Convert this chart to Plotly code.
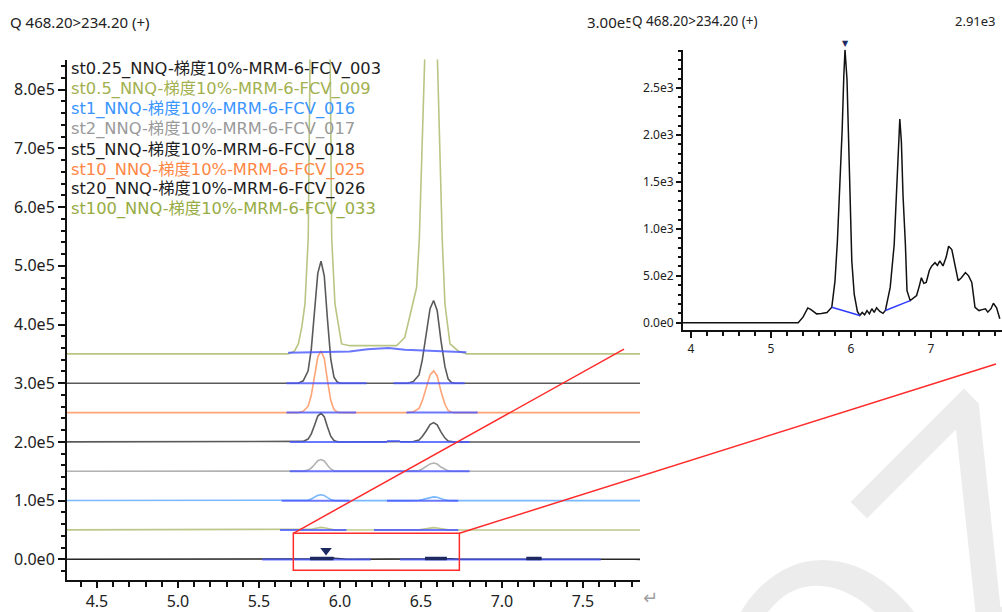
import plotly.graph_objects as go

W, H = 1002, 612

# ---------------------------------------------------------------- data
samples = [
    "st0.25_NNQ-梯度10%-MRM-6-FCV_003",
    "st0.5_NNQ-梯度10%-MRM-6-FCV_009",
    "st1_NNQ-梯度10%-MRM-6-FCV_016",
    "st2_NNQ-梯度10%-MRM-6-FCV_017",
    "st5_NNQ-梯度10%-MRM-6-FCV_018",
    "st10_NNQ-梯度10%-MRM-6-FCV_025",
    "st20_NNQ-梯度10%-MRM-6-FCV_026",
    "st100_NNQ-梯度10%-MRM-6-FCV_033",
]
text_colors = ["#1e1e1e", "#a3b150", "#3b95ff", "#9a9a9a",
               "#1e1e1e", "#ff8746", "#1e1e1e", "#97ac44"]
line_colors = ["#262626", "#bcc78a", "#7ab9ff", "#b2b2b2",
               "#5a5a5a", "#ffa476", "#5a5a5a", "#b9c582"]

# retention times of the two analyte peaks (min)
rt_peak1 = 5.883
rt_peak2 = 6.578
# apex heights above baseline for st0.5, st1, st2, st5, st10, st20 (counts)
height_peak1 = [4500, 10000, 20000, 49000, 105000, 208000]
height_peak2 = [4000, 6500, 14000, 33000, 71000, 141000]

# normalised peak profile (time offset from apex, relative intensity)
prof1_dt = [-0.14, -0.11, -0.08, -0.06, -0.04, -0.02, 0.0, 0.02, 0.04, 0.06, 0.08, 0.10, 0.12]
prof2_dt = [-0.16, -0.125, -0.09, -0.07, -0.045, -0.022, 0.0, 0.022, 0.045, 0.07, 0.09, 0.11, 0.13]
prof_rel = [0.0, 0.02, 0.10, 0.28, 0.58, 0.90, 1.0, 0.88, 0.52, 0.20, 0.05, 0.01, 0.0]

# st0.25 chromatogram (also shown enlarged)
st025_t = [3.90, 5.34, 5.40, 5.46, 5.50, 5.57, 5.63, 5.70, 5.76, 5.80, 5.83, 5.86,
           5.89, 5.91, 5.925, 5.95, 5.97, 5.99, 6.01, 6.04, 6.08, 6.11, 6.14, 6.17,
           6.20, 6.23, 6.26, 6.29, 6.32, 6.36, 6.40, 6.43, 6.49, 6.54, 6.57, 6.60,
           6.61, 6.63, 6.65, 6.68, 6.70, 6.74, 6.78, 6.82, 6.85, 6.88, 6.91, 6.94,
           6.98, 7.01, 7.05, 7.08, 7.11, 7.15, 7.19, 7.22, 7.26, 7.30, 7.34, 7.38,
           7.43, 7.47, 7.51, 7.55, 7.60, 7.64, 7.68, 7.71, 7.75, 7.78, 7.82, 7.86]
st025_i = [0, 0, 60, 158, 140, 95, 100, 110, 166, 447, 869, 1432,
           2065, 2627, 2909, 2592, 1924, 1186, 658, 306, 120, 78, 110, 85,
           130, 95, 150, 110, 160, 120, 100, 131, 377, 834, 1361, 1924,
           2170, 1924, 1361, 834, 342, 236, 260, 290, 380, 480, 420, 430,
           560, 605, 640, 610, 660, 605, 700, 815, 780, 600, 447, 480,
           535, 500, 430, 165, 130, 140, 148, 113, 150, 208, 160, 42]

# st100 chromatogram (detector saturated, runs off scale)
st100_t = [3.90, 5.68, 5.72, 5.743, 5.764, 5.784, 5.804, 5.815, 5.83, 5.877, 5.925,
           5.938, 5.949, 5.969, 6.01, 6.06, 6.35, 6.40, 6.473, 6.49, 6.535, 6.55,
           6.566, 6.58, 6.597, 6.631, 6.648, 6.679, 6.73, 6.782, 7.90]
st100_i = [0, 0, 5000, 17000, 45000, 85000, 197000, 550000, 900000, 1100000, 900000,
           550000, 197000, 85000, 17000, 14000, 14000, 28000, 113000, 197000, 550000, 800000,
           900000, 800000, 550000, 197000, 85000, 17000, 5000, 0, 0]

# integration baselines per sample: segments of (time, intensity) points
integ_segments = [
    [[(5.52, 0), (6.19, 0)], [(6.37, 0), (7.61, 0)]],
    [[(5.63, 0), (6.04, 0)], [(6.21, 0), (6.73, 0)]],
    [[(5.64, 0), (6.06, 0)], [(6.29, 0), (6.73, 0)]],
    [[(5.69, 0), (6.80, 0)]],
    [[(5.69, 0), (6.29, 0)], [(6.29, 1500), (6.37, 1500)], [(6.37, 0), (6.80, 0)]],
    [[(5.67, 0), (6.10, 0)], [(6.41, 0), (6.85, 0)]],
    [[(5.67, 0), (6.165, 0)], [(6.33, 0), (6.77, 0)]],
    [[(5.68, 2000), (6.06, 4000), (6.17, 8000), (6.30, 10000), (6.40, 7000), (6.78, 3000)]],
]
# st0.25 detected peak ranges and apex
st025_peak_ranges = [(5.815, 5.96), (6.525, 6.66), (7.15, 7.245)]
st025_apex_t = 5.914
st025_apex_i = 2909
st025_zoom_integ = [[(5.76, 166), (6.11, 78)], [(6.43, 131), (6.74, 236)]]

stack_step = 50000  # vertical offset between overlaid traces

main_yticks = [0, 100000, 200000, 300000, 400000, 500000, 600000, 700000, 800000]
main_yticklabels = ["0.0e0", "1.0e5", "2.0e5", "3.0e5", "4.0e5", "5.0e5", "6.0e5", "7.0e5", "8.0e5"]
main_xticks = [4.5, 5.0, 5.5, 6.0, 6.5, 7.0, 7.5]
main_xticklabels = ["4.5", "5.0", "5.5", "6.0", "6.5", "7.0", "7.5"]
zoom_yticks = [0, 500, 1000, 1500, 2000, 2500]
zoom_yticklabels = ["0.0e0", "5.0e2", "1.0e3", "1.5e3", "2.0e3", "2.5e3"]
zoom_xticks = [4, 5, 6, 7]
zoom_xticklabels = ["4", "5", "6", "7"]

# ---------------------------------------------------------------- layout helpers
def px_x(px):
    return px / W


def px_y(py):
    return 1 - py / H


MAIN_X = (67, 640)
MAIN_Y = (60, 585)          # top, bottom (pixels)
MAIN_XR = [4.315, 7.852]
MAIN_YR = [-35500, 851400]
ZOOM_X = (683, 1002)
ZOOM_Y = (50, 333)
ZOOM_XR = [3.9, 7.8875]
ZOOM_YR = [-80, 2910]

FONT = "Noto Sans, Noto Sans CJK SC, sans-serif"
LEG_FONT = "DejaVu Sans, Noto Sans CJK SC, sans-serif"
BLUE = "rgba(70,85,255,0.8)"
NAVY = "#1d2a62"

fig = go.Figure()

# ---------------------------------------------------------------- main overlay
for k, name in enumerate(samples):
    base = k * stack_step
    if k == 0:
        t, inten = st025_t, st025_i
    elif k == len(samples) - 1:
        t, inten = st100_t, st100_i
    else:
        h1, h2 = height_peak1[k - 1], height_peak2[k - 1]
        t = [3.9] + [rt_peak1 + d for d in prof1_dt] + [rt_peak2 + d for d in prof2_dt] + [7.9]
        inten = [0] + [h1 * r for r in prof_rel] + [h2 * r for r in prof_rel] + [0]
    fig.add_trace(go.Scatter(x=t, y=[base + v for v in inten], mode="lines",
                             line=dict(color=line_colors[k], width=1.6),
                             hoverinfo="skip", showlegend=False, xaxis="x", yaxis="y"))

for k, segs in enumerate(integ_segments):
    base = k * stack_step
    xs, ys = [], []
    for seg in segs:
        xs += [p[0] for p in seg] + [None]
        ys += [base + p[1] for p in seg] + [None]
    fig.add_trace(go.Scatter(x=xs, y=ys, mode="lines", line=dict(color=BLUE, width=2),
                             hoverinfo="skip", showlegend=False, xaxis="x", yaxis="y"))

bx, by = [], []
for a, b in st025_peak_ranges:
    bx += [a, b, None]
    by += [1500, 1500, None]
fig.add_trace(go.Scatter(x=bx, y=by, mode="lines", line=dict(color=NAVY, width=3.5),
                         hoverinfo="skip", showlegend=False, xaxis="x", yaxis="y"))
fig.add_trace(go.Scatter(x=[st025_apex_t], y=[15000], mode="markers",
                         marker=dict(symbol="triangle-down", size=10, color=NAVY),
                         hoverinfo="skip", showlegend=False, xaxis="x", yaxis="y"))

# ---------------------------------------------------------------- enlarged st0.25
fig.add_trace(go.Scatter(x=st025_t, y=st025_i, mode="lines",
                         line=dict(color="#111111", width=1.5),
                         hoverinfo="skip", showlegend=False, xaxis="x2", yaxis="y2"))
zx, zy = [], []
for seg in st025_zoom_integ:
    zx += [p[0] for p in seg] + [None]
    zy += [p[1] for p in seg] + [None]
fig.add_trace(go.Scatter(x=zx, y=zy, mode="lines", line=dict(color="#2f3cff", width=1.5),
                         hoverinfo="skip", showlegend=False, xaxis="x2", yaxis="y2"))

# ---------------------------------------------------------------- axes
tickfont = dict(family=FONT, size=16, color="#222222")
small_tickfont = dict(family=FONT, size=12, color="#222222")
common = dict(showgrid=False, zeroline=False, showline=True, linecolor="#111111",
              linewidth=2, ticks="outside", tickcolor="#111111", tickwidth=1.5)

fig.update_layout(
    width=W, height=H,
    margin=dict(l=0, r=0, t=0, b=0),
    paper_bgcolor="white", plot_bgcolor="white",
    xaxis=dict(domain=[px_x(MAIN_X[0]), px_x(MAIN_X[1])], range=MAIN_XR, anchor="y",
               tickmode="array", tickvals=main_xticks, ticktext=main_xticklabels,
               ticklen=6, tickfont=tickfont,
               minor=dict(tickmode="linear", tick0=4.5, dtick=0.1, ticks="outside",
                          ticklen=5, tickcolor="#111111", tickwidth=1.5),
               **common),
    yaxis=dict(domain=[px_y(MAIN_Y[1]), px_y(MAIN_Y[0])], range=MAIN_YR, anchor="x",
               tickmode="array", tickvals=main_yticks, ticktext=main_yticklabels,
               ticklen=7, tickfont=tickfont,
               minor=dict(tickmode="linear", tick0=0, dtick=20000, ticks="outside",
                          ticklen=4, tickcolor="#111111", tickwidth=1.5),
               **common),
    xaxis2=dict(domain=[px_x(ZOOM_X[0]), px_x(ZOOM_X[1])], range=ZOOM_XR, anchor="y2",
                tickmode="array", tickvals=zoom_xticks, ticktext=zoom_xticklabels,
                ticklen=6, tickfont=small_tickfont,
                minor=dict(tickmode="linear", tick0=4, dtick=0.2, ticks="outside",
                           ticklen=4, tickcolor="#111111", tickwidth=1.5),
                **common),
    yaxis2=dict(domain=[px_y(ZOOM_Y[1]), px_y(ZOOM_Y[0])], range=ZOOM_YR, anchor="x2",
                tickmode="array", tickvals=zoom_yticks, ticktext=zoom_yticklabels,
                ticklen=5, tickfont=small_tickfont,
                minor=dict(tickmode="linear", tick0=0, dtick=100, ticks="outside",
                           ticklen=3, tickcolor="#111111", tickwidth=1.5),
                **common),
)


# ---------------------------------------------------------------- zoom box and leader lines
def data_to_paper(t, v):
    fx = (t - MAIN_XR[0]) / (MAIN_XR[1] - MAIN_XR[0])
    fy = (v - MAIN_YR[0]) / (MAIN_YR[1] - MAIN_YR[0])
    x0, x1 = px_x(MAIN_X[0]), px_x(MAIN_X[1])
    y0, y1 = px_y(MAIN_Y[1]), px_y(MAIN_Y[0])
    return x0 + fx * (x1 - x0), y0 + fy * (y1 - y0)


box_t = (5.712, 6.737)
box_v = (-18600, 44400)
fig.add_shape(type="rect", xref="x", yref="y", x0=box_t[0], x1=box_t[1],
              y0=box_v[0], y1=box_v[1], line=dict(color="#ff2a2a", width=1.5))
ax, ay = data_to_paper(box_t[0], box_v[1])
bx2, by2 = data_to_paper(box_t[1], box_v[1])
fig.add_shape(type="line", xref="paper", yref="paper", x0=ax, y0=ay,
              x1=px_x(624), y1=px_y(352), line=dict(color="#ff2a2a", width=1.5))
fig.add_shape(type="line", xref="paper", yref="paper", x0=bx2, y0=by2,
              x1=px_x(996), y1=px_y(367), line=dict(color="#ff2a2a", width=1.5))

# ---------------------------------------------------------------- texts
ann = []
# faint background watermark
ann.append(dict(x=px_x(905), y=px_y(604), xref="paper", yref="paper", text="OZ",
                showarrow=False, textangle=-45, xanchor="center", yanchor="middle",
                font=dict(family="DejaVu Sans", size=280, color="rgba(0,0,0,0.075)")))
ann.append(dict(x=px_x(8), y=px_y(22), xref="paper", yref="paper",
                text="Q 468.20>234.20 (+)", showarrow=False, xanchor="left", yanchor="middle",
                font=dict(family=FONT, size=15, color="#222222")))
ann.append(dict(x=px_x(585), y=px_y(22), xref="paper", yref="paper",
                text="3.00e5", showarrow=False, xanchor="left", yanchor="middle",
                font=dict(family=FONT, size=15, color="#222222")))
ann.append(dict(x=px_x(630), y=px_y(21), xref="paper", yref="paper",
                text="Q 468.20>234.20 (+)", showarrow=False, xanchor="left", yanchor="middle",
                bgcolor="white", borderpad=1,
                font=dict(family=FONT, size=13.5, color="#222222")))
ann.append(dict(x=px_x(998), y=px_y(21), xref="paper", yref="paper",
                text="2.91e3", showarrow=False, xanchor="right", yanchor="middle",
                font=dict(family=FONT, size=13, color="#222222")))
# peak apex flag in the enlarged view
ann.append(dict(x=5.925, y=st025_apex_i, xref="x2", yref="y2", text="▼",
                showarrow=False, xanchor="center", yanchor="bottom",
                font=dict(family="DejaVu Sans", size=8, color=NAVY)))
legend_rows = [70, 90, 110, 130, 151, 171, 191, 211]
for name, col, row in zip(samples, text_colors, legend_rows):
    ann.append(dict(x=px_x(69), y=px_y(row), xref="paper", yref="paper", text=name,
                    showarrow=False, xanchor="left", yanchor="middle",
                    font=dict(family=LEG_FONT, size=16.3, color=col)))
ann.append(dict(x=px_x(650), y=px_y(602), xref="paper", yref="paper", text="↵",
                showarrow=False, xanchor="center", yanchor="middle",
                font=dict(family="DejaVu Sans", size=18, color="#a0a0a0")))
fig.update_layout(annotations=ann)

fig.write_html("out.html")
